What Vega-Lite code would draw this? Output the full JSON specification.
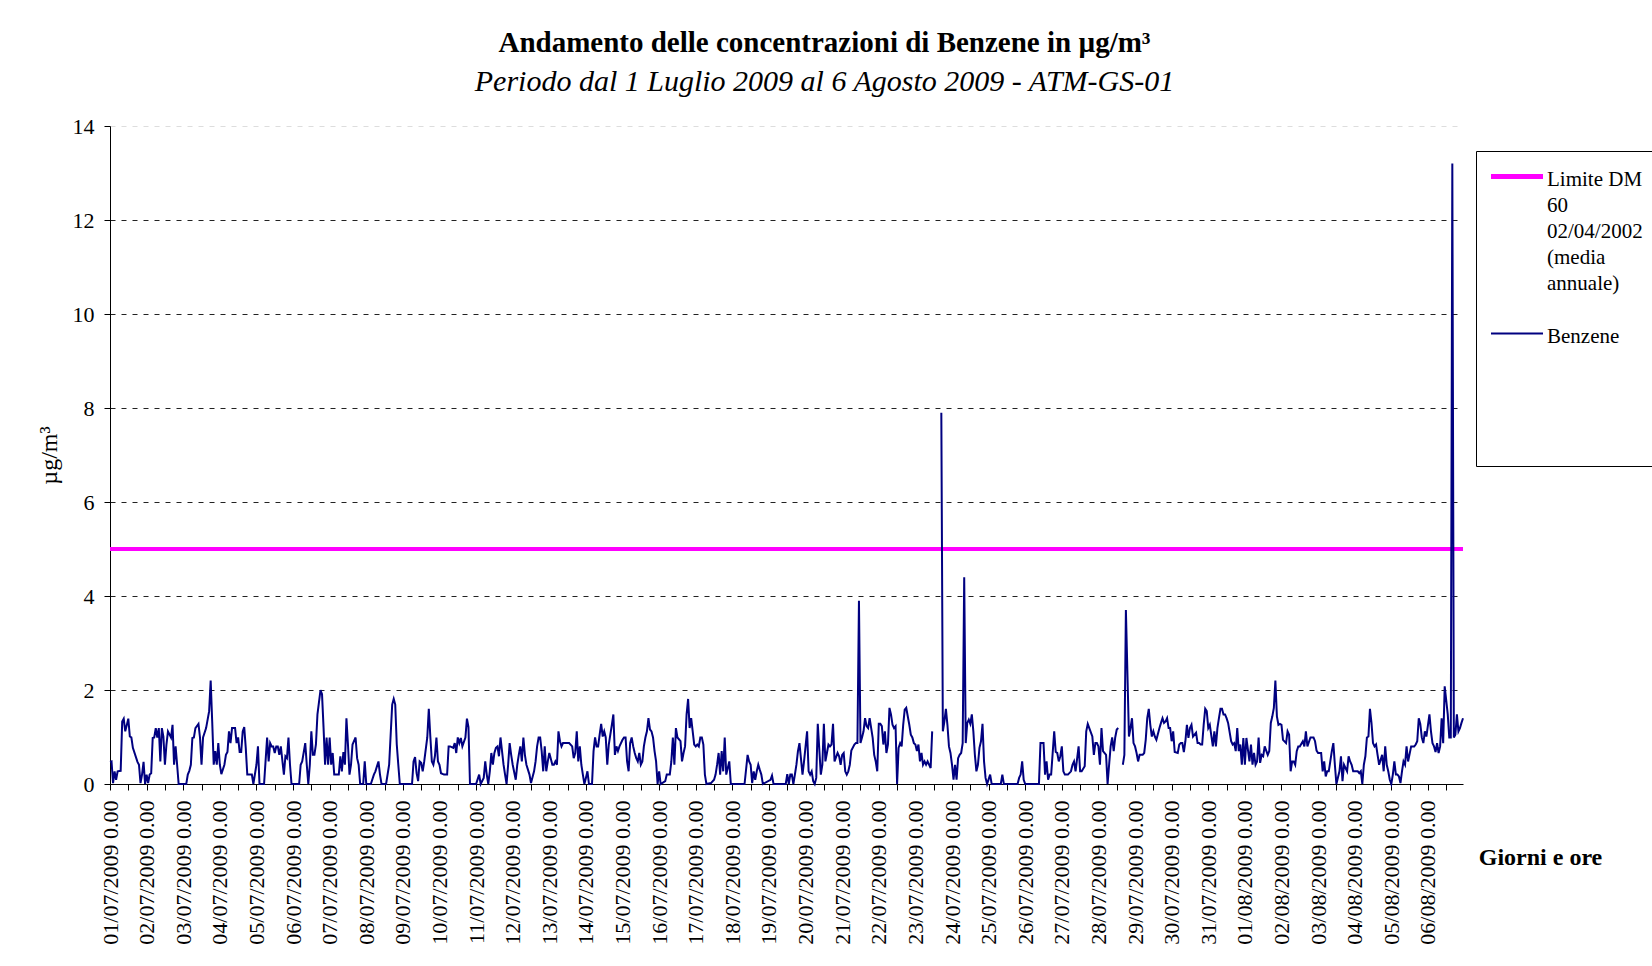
{
"$schema": "https://vega.github.io/schema/vega-lite/v6.json",
"width": 1353, "height": 658,
"autosize": {"type": "none"},
"padding": {"left": 110, "right": 189, "top": 126, "bottom": 182},
"background": "white",
"title": {"text": "Andamento delle concentrazioni di Benzene in µg/m³", "subtitle": "Periodo dal 1 Luglio 2009 al 6 Agosto 2009 - ATM-GS-01", "font": "Liberation Serif", "fontSize": 29, "fontWeight": "bold", "color": "#000", "subtitleFont": "Liberation Serif", "subtitleFontSize": 30, "subtitleFontStyle": "italic", "subtitleColor": "#000", "anchor": "middle", "frame": "group", "dx": 38, "offset": 18, "subtitlePadding": 9},
"config": {"view": {"stroke": null}, "font": "Liberation Serif"},
"layer": [
{"data": {"values": [{"s": "Limite DM 60 02/04/2002 (media annuale)", "v": 5}]},
 "mark": {"type": "rule", "strokeWidth": 4},
 "encoding": {
  "y": {"field": "v", "type": "quantitative"},
  "color": {"field": "s", "type": "nominal",
   "scale": {"domain": ["Limite DM 60 02/04/2002 (media annuale)", "Benzene"], "range": ["#FF00FF", "#000080"]},
   "legend": {"title": null, "orient": "none", "legendX": 1366, "legendY": 25, "padding": 15, "strokeColor": "#000", "fillColor": "#fff", "symbolType": "stroke", "symbolSize": 2704, "symbolStrokeWidth": 2, "labelFont": "Liberation Serif", "labelFontSize": 21, "labelColor": "#000", "labelOffset": 35, "labelLimit": 400, "labelBaseline": "top", "rowPadding": 29,
    "labelExpr": "datum.value == 'Benzene' ? ['Benzene','','','',''] : ['Limite DM','60','02/04/2002','(media','annuale)']",
    "encode": {"symbols": {"update": {"x": {"value": 26}, "strokeWidth": {"signal": "datum.value == 'Benzene' ? 2 : 5"}}},
               "labels": {"update": {"dy": {"value": -8}, "lineHeight": {"value": 26}}}}}}
 }},
{"data": {"values": [
{"t":"2009-07-01T00:00","v":0.47},{"t":"2009-07-01T01:00","v":0.48},{"t":"2009-07-01T02:00","v":0.02},{"t":"2009-07-01T03:00","v":0.27},{"t":"2009-07-01T04:00","v":0.09},{"t":"2009-07-01T05:00","v":0.27},{"t":"2009-07-01T07:00","v":0.28},{"t":"2009-07-01T08:00","v":1.33},{"t":"2009-07-01T09:00","v":1.39},{"t":"2009-07-01T10:00","v":1.12},{"t":"2009-07-01T12:00","v":1.39},{"t":"2009-07-01T13:00","v":1.01},{"t":"2009-07-01T14:00","v":0.99},{"t":"2009-07-01T15:00","v":0.77},{"t":"2009-07-01T18:00","v":0.47},{"t":"2009-07-01T19:00","v":0.41},{"t":"2009-07-01T20:00","v":0.02},{"t":"2009-07-01T21:00","v":0.20},{"t":"2009-07-01T22:00","v":0.47},{"t":"2009-07-01T23:00","v":0},
{"t":"2009-07-02T00:00","v":0.20},{"t":"2009-07-02T01:00","v":0.02},{"t":"2009-07-02T02:00","v":0.20},{"t":"2009-07-02T03:00","v":0.23},{"t":"2009-07-02T04:00","v":0.98},{"t":"2009-07-02T05:00","v":0.99},{"t":"2009-07-02T06:00","v":1.19},{"t":"2009-07-02T07:00","v":0.99},{"t":"2009-07-02T08:00","v":1.19},{"t":"2009-07-02T09:00","v":0.48},{"t":"2009-07-02T10:00","v":1.19},{"t":"2009-07-02T11:00","v":1.01},{"t":"2009-07-02T12:00","v":0.41},{"t":"2009-07-02T13:00","v":0.84},{"t":"2009-07-02T14:00","v":1.12},{"t":"2009-07-02T16:00","v":0.99},{"t":"2009-07-02T17:00","v":1.26},{"t":"2009-07-02T18:00","v":0.41},{"t":"2009-07-02T19:00","v":0.80},{"t":"2009-07-02T20:00","v":0.41},{"t":"2009-07-02T21:00","v":0},
{"t":"2009-07-03T02:00","v":0},{"t":"2009-07-03T03:00","v":0.20},{"t":"2009-07-03T04:00","v":0.28},{"t":"2009-07-03T05:00","v":0.41},{"t":"2009-07-03T06:00","v":0.98},{"t":"2009-07-03T07:00","v":0.99},{"t":"2009-07-03T08:00","v":1.19},{"t":"2009-07-03T10:00","v":1.28},{"t":"2009-07-03T11:00","v":0.99},{"t":"2009-07-03T12:00","v":0.41},{"t":"2009-07-03T13:00","v":0.99},{"t":"2009-07-03T15:00","v":1.19},{"t":"2009-07-03T16:00","v":1.37},{"t":"2009-07-03T17:00","v":1.55},{"t":"2009-07-03T18:00","v":2.20},{"t":"2009-07-03T19:00","v":1.33},{"t":"2009-07-03T20:00","v":0.41},{"t":"2009-07-03T21:00","v":0.70},{"t":"2009-07-03T22:00","v":0.41},{"t":"2009-07-03T23:00","v":0.87},
{"t":"2009-07-04T00:00","v":0.41},{"t":"2009-07-04T01:00","v":0.21},{"t":"2009-07-04T03:00","v":0.41},{"t":"2009-07-04T04:00","v":0.62},{"t":"2009-07-04T05:00","v":0.68},{"t":"2009-07-04T06:00","v":1.12},{"t":"2009-07-04T07:00","v":0.87},{"t":"2009-07-04T08:00","v":1.19},{"t":"2009-07-04T10:00","v":1.19},{"t":"2009-07-04T11:00","v":0.87},{"t":"2009-07-04T12:00","v":0.99},{"t":"2009-07-04T13:00","v":0.68},{"t":"2009-07-04T14:00","v":0.68},{"t":"2009-07-04T15:00","v":1.12},{"t":"2009-07-04T16:00","v":1.21},{"t":"2009-07-04T17:00","v":0.77},{"t":"2009-07-04T18:00","v":0.20},{"t":"2009-07-04T20:00","v":0.20},{"t":"2009-07-04T21:00","v":0.20},{"t":"2009-07-04T22:00","v":0},
{"t":"2009-07-05T00:00","v":0.41},{"t":"2009-07-05T01:00","v":0.80},{"t":"2009-07-05T02:00","v":0},{"t":"2009-07-05T05:00","v":0},{"t":"2009-07-05T07:00","v":0.99},{"t":"2009-07-05T08:00","v":0.48},{"t":"2009-07-05T09:00","v":0.87},{"t":"2009-07-05T10:00","v":0.80},{"t":"2009-07-05T11:00","v":0.80},{"t":"2009-07-05T12:00","v":0.66},{"t":"2009-07-05T13:00","v":0.80},{"t":"2009-07-05T14:00","v":0.80},{"t":"2009-07-05T15:00","v":0.62},{"t":"2009-07-05T16:00","v":0.80},{"t":"2009-07-05T18:00","v":0.20},{"t":"2009-07-05T19:00","v":0.59},{"t":"2009-07-05T20:00","v":0.55},{"t":"2009-07-05T21:00","v":0.99},{"t":"2009-07-05T22:00","v":0.41},{"t":"2009-07-05T23:00","v":0},
{"t":"2009-07-06T04:00","v":0},{"t":"2009-07-06T05:00","v":0.41},{"t":"2009-07-06T06:00","v":0.48},{"t":"2009-07-06T08:00","v":0.87},{"t":"2009-07-06T09:00","v":0.41},{"t":"2009-07-06T10:00","v":0},{"t":"2009-07-06T11:00","v":0.41},{"t":"2009-07-06T12:00","v":1.12},{"t":"2009-07-06T13:00","v":0.62},{"t":"2009-07-06T14:00","v":0.62},{"t":"2009-07-06T15:00","v":0.84},{"t":"2009-07-06T16:00","v":1.48},{"t":"2009-07-06T18:00","v":2.00},{"t":"2009-07-06T19:00","v":1.91},{"t":"2009-07-06T20:00","v":1.20},{"t":"2009-07-06T21:00","v":0.41},{"t":"2009-07-06T22:00","v":0.99},{"t":"2009-07-06T23:00","v":0.41},
{"t":"2009-07-07T00:00","v":0.99},{"t":"2009-07-07T01:00","v":0.41},{"t":"2009-07-07T02:00","v":0.66},{"t":"2009-07-07T03:00","v":0.20},{"t":"2009-07-07T05:00","v":0.20},{"t":"2009-07-07T06:00","v":0.20},{"t":"2009-07-07T07:00","v":0.59},{"t":"2009-07-07T08:00","v":0.27},{"t":"2009-07-07T09:00","v":0.68},{"t":"2009-07-07T10:00","v":0.41},{"t":"2009-07-07T11:00","v":1.40},{"t":"2009-07-07T12:00","v":0.84},{"t":"2009-07-07T13:00","v":0.20},{"t":"2009-07-07T14:00","v":0.41},{"t":"2009-07-07T15:00","v":0.84},{"t":"2009-07-07T17:00","v":0.99},{"t":"2009-07-07T18:00","v":0.55},{"t":"2009-07-07T19:00","v":0.41},{"t":"2009-07-07T20:00","v":0},{"t":"2009-07-07T22:00","v":0},{"t":"2009-07-07T23:00","v":0.48},
{"t":"2009-07-08T00:00","v":0},{"t":"2009-07-08T03:00","v":0},{"t":"2009-07-08T05:00","v":0.20},{"t":"2009-07-08T06:00","v":0.27},{"t":"2009-07-08T08:00","v":0.48},{"t":"2009-07-08T09:00","v":0.20},{"t":"2009-07-08T10:00","v":0},{"t":"2009-07-08T13:00","v":0},{"t":"2009-07-08T15:00","v":0.41},{"t":"2009-07-08T17:00","v":1.69},{"t":"2009-07-08T18:00","v":1.81},{"t":"2009-07-08T19:00","v":1.69},{"t":"2009-07-08T20:00","v":0.84},{"t":"2009-07-08T21:00","v":0.41},{"t":"2009-07-08T22:00","v":0},
{"t":"2009-07-09T06:00","v":0},{"t":"2009-07-09T07:00","v":0.48},{"t":"2009-07-09T08:00","v":0.57},{"t":"2009-07-09T09:00","v":0.23},{"t":"2009-07-09T10:00","v":0.06},{"t":"2009-07-09T11:00","v":0.48},{"t":"2009-07-09T12:00","v":0.45},{"t":"2009-07-09T13:00","v":0.27},{"t":"2009-07-09T14:00","v":0.48},{"t":"2009-07-09T16:00","v":0.99},{"t":"2009-07-09T17:00","v":1.60},{"t":"2009-07-09T18:00","v":1.01},{"t":"2009-07-09T19:00","v":0.48},{"t":"2009-07-09T20:00","v":0.41},{"t":"2009-07-09T21:00","v":0.59},{"t":"2009-07-09T22:00","v":0.99},{"t":"2009-07-09T23:00","v":0.48},
{"t":"2009-07-10T00:00","v":0.41},{"t":"2009-07-10T01:00","v":0.23},{"t":"2009-07-10T03:00","v":0.20},{"t":"2009-07-10T05:00","v":0.20},{"t":"2009-07-10T06:00","v":0.80},{"t":"2009-07-10T07:00","v":0.80},{"t":"2009-07-10T09:00","v":0.77},{"t":"2009-07-10T10:00","v":0.87},{"t":"2009-07-10T11:00","v":0.66},{"t":"2009-07-10T12:00","v":0.99},{"t":"2009-07-10T13:00","v":0.87},{"t":"2009-07-10T14:00","v":0.98},{"t":"2009-07-10T15:00","v":0.80},{"t":"2009-07-10T17:00","v":0.99},{"t":"2009-07-10T18:00","v":1.39},{"t":"2009-07-10T19:00","v":1.21},{"t":"2009-07-10T20:00","v":0},
{"t":"2009-07-11T00:00","v":0},{"t":"2009-07-11T02:00","v":0.20},{"t":"2009-07-11T03:00","v":0},{"t":"2009-07-11T05:00","v":0.13},{"t":"2009-07-11T06:00","v":0.48},{"t":"2009-07-11T07:00","v":0.20},{"t":"2009-07-11T08:00","v":0},{"t":"2009-07-11T09:00","v":0.27},{"t":"2009-07-11T10:00","v":0.66},{"t":"2009-07-11T11:00","v":0.41},{"t":"2009-07-11T12:00","v":0.66},{"t":"2009-07-11T13:00","v":0.77},{"t":"2009-07-11T14:00","v":0.80},{"t":"2009-07-11T15:00","v":0.59},{"t":"2009-07-11T16:00","v":0.99},{"t":"2009-07-11T18:00","v":0.41},{"t":"2009-07-11T19:00","v":0.20},{"t":"2009-07-11T20:00","v":0},{"t":"2009-07-11T21:00","v":0.41},{"t":"2009-07-11T22:00","v":0.87},{"t":"2009-07-11T23:00","v":0.62},
{"t":"2009-07-12T00:00","v":0.41},{"t":"2009-07-12T02:00","v":0.09},{"t":"2009-07-12T03:00","v":0.41},{"t":"2009-07-12T04:00","v":0.62},{"t":"2009-07-12T05:00","v":0.80},{"t":"2009-07-12T06:00","v":0.48},{"t":"2009-07-12T07:00","v":0.99},{"t":"2009-07-12T08:00","v":0.62},{"t":"2009-07-12T09:00","v":0.41},{"t":"2009-07-12T11:00","v":0.20},{"t":"2009-07-12T12:00","v":0.02},{"t":"2009-07-12T14:00","v":0.27},{"t":"2009-07-12T15:00","v":0.48},{"t":"2009-07-12T16:00","v":0.80},{"t":"2009-07-12T17:00","v":0.99},{"t":"2009-07-12T18:00","v":0.99},{"t":"2009-07-12T19:00","v":0.70},{"t":"2009-07-12T20:00","v":0.27},{"t":"2009-07-12T21:00","v":0.80},{"t":"2009-07-12T22:00","v":0.27},{"t":"2009-07-12T23:00","v":0.48},
{"t":"2009-07-13T00:00","v":0.66},{"t":"2009-07-13T02:00","v":0.41},{"t":"2009-07-13T03:00","v":0.41},{"t":"2009-07-13T04:00","v":0.48},{"t":"2009-07-13T05:00","v":0.41},{"t":"2009-07-13T06:00","v":1.12},{"t":"2009-07-13T07:00","v":0.91},{"t":"2009-07-13T08:00","v":0.80},{"t":"2009-07-13T09:00","v":0.87},{"t":"2009-07-13T11:00","v":0.87},{"t":"2009-07-13T13:00","v":0.87},{"t":"2009-07-13T15:00","v":0.80},{"t":"2009-07-13T16:00","v":0.55},{"t":"2009-07-13T17:00","v":0.66},{"t":"2009-07-13T18:00","v":1.12},{"t":"2009-07-13T19:00","v":0.48},{"t":"2009-07-13T20:00","v":0.80},{"t":"2009-07-13T21:00","v":0.41},{"t":"2009-07-13T22:00","v":0.20},{"t":"2009-07-13T23:00","v":0},
{"t":"2009-07-14T00:00","v":0.13},{"t":"2009-07-14T01:00","v":0.27},{"t":"2009-07-14T02:00","v":0},{"t":"2009-07-14T04:00","v":0},{"t":"2009-07-14T05:00","v":0.70},{"t":"2009-07-14T06:00","v":0.99},{"t":"2009-07-14T07:00","v":0.80},{"t":"2009-07-14T08:00","v":0.80},{"t":"2009-07-14T09:00","v":1.05},{"t":"2009-07-14T10:00","v":1.28},{"t":"2009-07-14T11:00","v":1.01},{"t":"2009-07-14T12:00","v":1.12},{"t":"2009-07-14T13:00","v":0.99},{"t":"2009-07-14T14:00","v":0.41},{"t":"2009-07-14T15:00","v":0.84},{"t":"2009-07-14T16:00","v":1.05},{"t":"2009-07-14T17:00","v":1.26},{"t":"2009-07-14T18:00","v":1.48},{"t":"2009-07-14T19:00","v":0.62},{"t":"2009-07-14T20:00","v":0.80},{"t":"2009-07-14T21:00","v":0.70},{"t":"2009-07-14T22:00","v":0.80},
{"t":"2009-07-15T00:00","v":0.94},{"t":"2009-07-15T01:00","v":0.99},{"t":"2009-07-15T02:00","v":0.99},{"t":"2009-07-15T03:00","v":0.48},{"t":"2009-07-15T04:00","v":0.27},{"t":"2009-07-15T05:00","v":0.87},{"t":"2009-07-15T06:00","v":0.99},{"t":"2009-07-15T07:00","v":0.80},{"t":"2009-07-15T08:00","v":0.66},{"t":"2009-07-15T09:00","v":0.55},{"t":"2009-07-15T10:00","v":0.48},{"t":"2009-07-15T11:00","v":0.66},{"t":"2009-07-15T12:00","v":0.41},{"t":"2009-07-15T13:00","v":0.48},{"t":"2009-07-15T14:00","v":0.80},{"t":"2009-07-15T15:00","v":0.99},{"t":"2009-07-15T16:00","v":1.12},{"t":"2009-07-15T17:00","v":1.40},{"t":"2009-07-15T18:00","v":1.16},{"t":"2009-07-15T19:00","v":1.12},{"t":"2009-07-15T20:00","v":0.99},{"t":"2009-07-15T21:00","v":0.70},{"t":"2009-07-15T22:00","v":0.48},{"t":"2009-07-15T23:00","v":0},
{"t":"2009-07-16T00:00","v":0.27},{"t":"2009-07-16T01:00","v":0},{"t":"2009-07-16T04:00","v":0.06},{"t":"2009-07-16T05:00","v":0.20},{"t":"2009-07-16T07:00","v":0.20},{"t":"2009-07-16T08:00","v":0.48},{"t":"2009-07-16T09:00","v":0.99},{"t":"2009-07-16T10:00","v":0.41},{"t":"2009-07-16T11:00","v":1.19},{"t":"2009-07-16T12:00","v":0.99},{"t":"2009-07-16T14:00","v":0.91},{"t":"2009-07-16T15:00","v":0.48},{"t":"2009-07-16T16:00","v":0.66},{"t":"2009-07-16T17:00","v":0.80},{"t":"2009-07-16T18:00","v":1.48},{"t":"2009-07-16T19:00","v":1.81},{"t":"2009-07-16T20:00","v":1.19},{"t":"2009-07-16T21:00","v":1.40},{"t":"2009-07-16T23:00","v":0.84},
{"t":"2009-07-17T00:00","v":0.80},{"t":"2009-07-17T01:00","v":0.84},{"t":"2009-07-17T02:00","v":0.80},{"t":"2009-07-17T03:00","v":0.99},{"t":"2009-07-17T04:00","v":0.99},{"t":"2009-07-17T05:00","v":0.84},{"t":"2009-07-17T06:00","v":0.20},{"t":"2009-07-17T07:00","v":0},{"t":"2009-07-17T10:00","v":0.02},{"t":"2009-07-17T12:00","v":0.09},{"t":"2009-07-17T13:00","v":0.20},{"t":"2009-07-17T14:00","v":0.41},{"t":"2009-07-17T15:00","v":0.66},{"t":"2009-07-17T16:00","v":0.20},{"t":"2009-07-17T17:00","v":0.70},{"t":"2009-07-17T18:00","v":0.27},{"t":"2009-07-17T19:00","v":0.99},{"t":"2009-07-17T20:00","v":0.20},{"t":"2009-07-17T22:00","v":0.48},{"t":"2009-07-17T23:00","v":0},
{"t":"2009-07-18T08:00","v":0},{"t":"2009-07-18T10:00","v":0.62},{"t":"2009-07-18T11:00","v":0.48},{"t":"2009-07-18T12:00","v":0.41},{"t":"2009-07-18T13:00","v":0.02},{"t":"2009-07-18T14:00","v":0.27},{"t":"2009-07-18T15:00","v":0.09},{"t":"2009-07-18T16:00","v":0.27},{"t":"2009-07-18T17:00","v":0.41},{"t":"2009-07-18T18:00","v":0.30},{"t":"2009-07-18T19:00","v":0.20},{"t":"2009-07-18T20:00","v":0},
{"t":"2009-07-19T01:00","v":0.09},{"t":"2009-07-19T02:00","v":0.18},{"t":"2009-07-19T03:00","v":0},{"t":"2009-07-19T11:00","v":0},{"t":"2009-07-19T12:00","v":0.21},{"t":"2009-07-19T13:00","v":0},{"t":"2009-07-19T14:00","v":0.20},{"t":"2009-07-19T15:00","v":0.20},{"t":"2009-07-19T16:00","v":0},{"t":"2009-07-19T17:00","v":0.20},{"t":"2009-07-19T18:00","v":0.41},{"t":"2009-07-19T19:00","v":0.70},{"t":"2009-07-19T20:00","v":0.87},{"t":"2009-07-19T22:00","v":0.20},{"t":"2009-07-19T23:00","v":0.48},
{"t":"2009-07-20T00:00","v":0.80},{"t":"2009-07-20T01:00","v":1.12},{"t":"2009-07-20T02:00","v":0.27},{"t":"2009-07-20T03:00","v":0.20},{"t":"2009-07-20T04:00","v":0.27},{"t":"2009-07-20T05:00","v":0.06},{"t":"2009-07-20T06:00","v":0},{"t":"2009-07-20T07:00","v":0.13},{"t":"2009-07-20T08:00","v":1.28},{"t":"2009-07-20T10:00","v":0.20},{"t":"2009-07-20T11:00","v":0.41},{"t":"2009-07-20T12:00","v":1.28},{"t":"2009-07-20T13:00","v":0.48},{"t":"2009-07-20T14:00","v":0.66},{"t":"2009-07-20T15:00","v":0.84},{"t":"2009-07-20T16:00","v":0.80},{"t":"2009-07-20T17:00","v":0.84},{"t":"2009-07-20T18:00","v":1.28},{"t":"2009-07-20T19:00","v":0.48},{"t":"2009-07-20T21:00","v":0.66},{"t":"2009-07-20T22:00","v":0.59},{"t":"2009-07-20T23:00","v":0.41},
{"t":"2009-07-21T00:00","v":0.62},{"t":"2009-07-21T01:00","v":0.66},{"t":"2009-07-21T02:00","v":0.27},{"t":"2009-07-21T03:00","v":0.20},{"t":"2009-07-21T04:00","v":0.27},{"t":"2009-07-21T05:00","v":0.41},{"t":"2009-07-21T06:00","v":0.71},{"t":"2009-07-21T08:00","v":0.84},{"t":"2009-07-21T09:00","v":0.87},{"t":"2009-07-21T10:00","v":0.87},{"t":"2009-07-21T11:00","v":3.90},{"t":"2009-07-21T12:00","v":0.87},{"t":"2009-07-21T13:00","v":0.99},{"t":"2009-07-21T14:00","v":1.12},{"t":"2009-07-21T15:00","v":1.40},{"t":"2009-07-21T16:00","v":1.23},{"t":"2009-07-21T17:00","v":1.19},{"t":"2009-07-21T18:00","v":1.40},{"t":"2009-07-21T20:00","v":0.98},{"t":"2009-07-21T21:00","v":0.62},{"t":"2009-07-21T22:00","v":0.48},{"t":"2009-07-21T23:00","v":0.27},
{"t":"2009-07-22T00:00","v":1.28},{"t":"2009-07-22T01:00","v":1.28},{"t":"2009-07-22T02:00","v":1.23},{"t":"2009-07-22T03:00","v":0.84},{"t":"2009-07-22T04:00","v":1.12},{"t":"2009-07-22T05:00","v":0.66},{"t":"2009-07-22T06:00","v":0.84},{"t":"2009-07-22T07:00","v":1.62},{"t":"2009-07-22T08:00","v":1.48},{"t":"2009-07-22T09:00","v":1.26},{"t":"2009-07-22T10:00","v":1.19},{"t":"2009-07-22T11:00","v":1.23},{"t":"2009-07-22T12:00","v":0},{"t":"2009-07-22T13:00","v":0.77},{"t":"2009-07-22T14:00","v":0.87},{"t":"2009-07-22T15:00","v":0.80},{"t":"2009-07-22T16:00","v":1.26},{"t":"2009-07-22T17:00","v":1.58},{"t":"2009-07-22T18:00","v":1.62},{"t":"2009-07-22T20:00","v":1.26},{"t":"2009-07-22T21:00","v":1.05},{"t":"2009-07-22T22:00","v":0.99},{"t":"2009-07-22T23:00","v":0.87},
{"t":"2009-07-23T00:00","v":0.84},{"t":"2009-07-23T01:00","v":0.70},{"t":"2009-07-23T02:00","v":0.84},{"t":"2009-07-23T03:00","v":0.48},{"t":"2009-07-23T04:00","v":0.66},{"t":"2009-07-23T05:00","v":0.41},{"t":"2009-07-23T06:00","v":0.48},{"t":"2009-07-23T07:00","v":0.41},{"t":"2009-07-23T08:00","v":0.48},{"t":"2009-07-23T09:00","v":0.41},{"t":"2009-07-23T10:00","v":0.34},{"t":"2009-07-23T11:00","v":1.12},{"t":"2009-07-23T12:00","v":null},{"t":"2009-07-23T17:00","v":7.90},{"t":"2009-07-23T18:00","v":1.12},{"t":"2009-07-23T19:00","v":1.33},{"t":"2009-07-23T20:00","v":1.60},{"t":"2009-07-23T21:00","v":1.26},{"t":"2009-07-23T22:00","v":0.80},{"t":"2009-07-23T23:00","v":0.66},
{"t":"2009-07-24T00:00","v":0.41},{"t":"2009-07-24T01:00","v":0.09},{"t":"2009-07-24T02:00","v":0.41},{"t":"2009-07-24T03:00","v":0.09},{"t":"2009-07-24T04:00","v":0.55},{"t":"2009-07-24T05:00","v":0.62},{"t":"2009-07-24T06:00","v":0.66},{"t":"2009-07-24T07:00","v":0.87},{"t":"2009-07-24T08:00","v":4.40},{"t":"2009-07-24T09:00","v":0.87},{"t":"2009-07-24T10:00","v":1.30},{"t":"2009-07-24T11:00","v":1.37},{"t":"2009-07-24T12:00","v":1.28},{"t":"2009-07-24T13:00","v":1.48},{"t":"2009-07-24T14:00","v":1.12},{"t":"2009-07-24T15:00","v":0.62},{"t":"2009-07-24T16:00","v":0.27},{"t":"2009-07-24T17:00","v":0.41},{"t":"2009-07-24T18:00","v":0.77},{"t":"2009-07-24T19:00","v":0.91},{"t":"2009-07-24T20:00","v":1.28},{"t":"2009-07-24T21:00","v":0.48},{"t":"2009-07-24T22:00","v":0.13},{"t":"2009-07-24T23:00","v":0},
{"t":"2009-07-25T01:00","v":0.20},{"t":"2009-07-25T02:00","v":0},{"t":"2009-07-25T08:00","v":0},{"t":"2009-07-25T09:00","v":0.20},{"t":"2009-07-25T10:00","v":0},{"t":"2009-07-25T19:00","v":0},{"t":"2009-07-25T20:00","v":0.13},{"t":"2009-07-25T21:00","v":0.20},{"t":"2009-07-25T22:00","v":0.48},{"t":"2009-07-25T23:00","v":0.09},
{"t":"2009-07-26T00:00","v":0},{"t":"2009-07-26T09:00","v":0},{"t":"2009-07-26T10:00","v":0.87},{"t":"2009-07-26T12:00","v":0.87},{"t":"2009-07-26T13:00","v":0.20},{"t":"2009-07-26T14:00","v":0.48},{"t":"2009-07-26T15:00","v":0.09},{"t":"2009-07-26T16:00","v":0.20},{"t":"2009-07-26T17:00","v":0.20},{"t":"2009-07-26T19:00","v":1.12},{"t":"2009-07-26T20:00","v":0.68},{"t":"2009-07-26T21:00","v":0.66},{"t":"2009-07-26T22:00","v":0.48},{"t":"2009-07-26T23:00","v":0.59},
{"t":"2009-07-27T00:00","v":0.80},{"t":"2009-07-27T01:00","v":0.27},{"t":"2009-07-27T02:00","v":0.20},{"t":"2009-07-27T04:00","v":0.20},{"t":"2009-07-27T06:00","v":0.27},{"t":"2009-07-27T07:00","v":0.41},{"t":"2009-07-27T08:00","v":0.48},{"t":"2009-07-27T09:00","v":0.27},{"t":"2009-07-27T11:00","v":0.80},{"t":"2009-07-27T12:00","v":0.27},{"t":"2009-07-27T13:00","v":0.27},{"t":"2009-07-27T15:00","v":0.38},{"t":"2009-07-27T16:00","v":1.12},{"t":"2009-07-27T17:00","v":1.28},{"t":"2009-07-27T18:00","v":1.19},{"t":"2009-07-27T20:00","v":1.01},{"t":"2009-07-27T21:00","v":0.62},{"t":"2009-07-27T22:00","v":0.87},{"t":"2009-07-27T23:00","v":0.87},
{"t":"2009-07-28T00:00","v":0.80},{"t":"2009-07-28T01:00","v":0.41},{"t":"2009-07-28T02:00","v":1.19},{"t":"2009-07-28T03:00","v":0.70},{"t":"2009-07-28T05:00","v":0.62},{"t":"2009-07-28T06:00","v":0},{"t":"2009-07-28T07:00","v":0.41},{"t":"2009-07-28T08:00","v":0.80},{"t":"2009-07-28T09:00","v":0.99},{"t":"2009-07-28T10:00","v":0.70},{"t":"2009-07-28T11:00","v":0.99},{"t":"2009-07-28T12:00","v":1.16},{"t":"2009-07-28T13:00","v":1.19},{"t":"2009-07-28T14:00","v":null},{"t":"2009-07-28T16:00","v":0.41},{"t":"2009-07-28T17:00","v":0.62},{"t":"2009-07-28T18:00","v":3.70},{"t":"2009-07-28T20:00","v":1.01},{"t":"2009-07-28T21:00","v":1.19},{"t":"2009-07-28T22:00","v":1.40},{"t":"2009-07-28T23:00","v":0.87},
{"t":"2009-07-29T00:00","v":0.80},{"t":"2009-07-29T01:00","v":0.66},{"t":"2009-07-29T02:00","v":0.48},{"t":"2009-07-29T03:00","v":0.62},{"t":"2009-07-29T05:00","v":0.62},{"t":"2009-07-29T06:00","v":0.66},{"t":"2009-07-29T07:00","v":0.94},{"t":"2009-07-29T08:00","v":1.40},{"t":"2009-07-29T09:00","v":1.60},{"t":"2009-07-29T10:00","v":1.26},{"t":"2009-07-29T11:00","v":1.01},{"t":"2009-07-29T12:00","v":1.12},{"t":"2009-07-29T13:00","v":1.01},{"t":"2009-07-29T14:00","v":0.94},{"t":"2009-07-29T16:00","v":1.19},{"t":"2009-07-29T17:00","v":1.30},{"t":"2009-07-29T18:00","v":1.40},{"t":"2009-07-29T19:00","v":1.30},{"t":"2009-07-29T20:00","v":1.33},{"t":"2009-07-29T21:00","v":1.40},{"t":"2009-07-29T22:00","v":1.19},{"t":"2009-07-29T23:00","v":1.19},
{"t":"2009-07-30T00:00","v":0.91},{"t":"2009-07-30T01:00","v":1.12},{"t":"2009-07-30T02:00","v":0.68},{"t":"2009-07-30T04:00","v":0.66},{"t":"2009-07-30T05:00","v":0.84},{"t":"2009-07-30T06:00","v":0.87},{"t":"2009-07-30T07:00","v":0.87},{"t":"2009-07-30T08:00","v":0.68},{"t":"2009-07-30T09:00","v":0.91},{"t":"2009-07-30T10:00","v":1.26},{"t":"2009-07-30T11:00","v":0.98},{"t":"2009-07-30T12:00","v":1.19},{"t":"2009-07-30T13:00","v":1.26},{"t":"2009-07-30T14:00","v":1.01},{"t":"2009-07-30T16:00","v":1.09},{"t":"2009-07-30T17:00","v":0.87},{"t":"2009-07-30T18:00","v":0.87},{"t":"2009-07-30T19:00","v":0.84},{"t":"2009-07-30T20:00","v":0.84},{"t":"2009-07-30T21:00","v":1.26},{"t":"2009-07-30T22:00","v":1.60},{"t":"2009-07-30T23:00","v":1.55},
{"t":"2009-07-31T00:00","v":1.19},{"t":"2009-07-31T01:00","v":1.26},{"t":"2009-07-31T03:00","v":0.80},{"t":"2009-07-31T04:00","v":1.12},{"t":"2009-07-31T05:00","v":0.80},{"t":"2009-07-31T06:00","v":1.19},{"t":"2009-07-31T07:00","v":1.40},{"t":"2009-07-31T08:00","v":1.60},{"t":"2009-07-31T09:00","v":1.60},{"t":"2009-07-31T10:00","v":1.48},{"t":"2009-07-31T11:00","v":1.48},{"t":"2009-07-31T12:00","v":1.40},{"t":"2009-07-31T13:00","v":1.30},{"t":"2009-07-31T15:00","v":0.91},{"t":"2009-07-31T16:00","v":0.84},{"t":"2009-07-31T17:00","v":0.87},{"t":"2009-07-31T18:00","v":0.70},{"t":"2009-07-31T19:00","v":1.19},{"t":"2009-07-31T20:00","v":0.70},{"t":"2009-07-31T21:00","v":0.84},{"t":"2009-07-31T22:00","v":0.41},{"t":"2009-07-31T23:00","v":0.98},
{"t":"2009-08-01T00:00","v":0.41},{"t":"2009-08-01T01:00","v":0.98},{"t":"2009-08-01T03:00","v":0.48},{"t":"2009-08-01T04:00","v":0.84},{"t":"2009-08-01T05:00","v":0.41},{"t":"2009-08-01T06:00","v":0.66},{"t":"2009-08-01T07:00","v":0.41},{"t":"2009-08-01T08:00","v":0.48},{"t":"2009-08-01T09:00","v":0.99},{"t":"2009-08-01T10:00","v":0.45},{"t":"2009-08-01T11:00","v":0.62},{"t":"2009-08-01T12:00","v":0.59},{"t":"2009-08-01T13:00","v":0.80},{"t":"2009-08-01T15:00","v":0.62},{"t":"2009-08-01T16:00","v":0.70},{"t":"2009-08-01T17:00","v":1.30},{"t":"2009-08-01T18:00","v":1.44},{"t":"2009-08-01T19:00","v":1.62},{"t":"2009-08-01T20:00","v":2.20},{"t":"2009-08-01T21:00","v":1.44},{"t":"2009-08-01T22:00","v":1.26},{"t":"2009-08-01T23:00","v":1.28},
{"t":"2009-08-02T00:00","v":1.26},{"t":"2009-08-02T01:00","v":0.94},{"t":"2009-08-02T03:00","v":0.87},{"t":"2009-08-02T04:00","v":1.12},{"t":"2009-08-02T05:00","v":1.05},{"t":"2009-08-02T06:00","v":0.27},{"t":"2009-08-02T07:00","v":0.48},{"t":"2009-08-02T08:00","v":0.48},{"t":"2009-08-02T09:00","v":0.41},{"t":"2009-08-02T10:00","v":0.70},{"t":"2009-08-02T11:00","v":0.80},{"t":"2009-08-02T12:00","v":0.80},{"t":"2009-08-02T14:00","v":0.91},{"t":"2009-08-02T15:00","v":0.80},{"t":"2009-08-02T16:00","v":1.12},{"t":"2009-08-02T17:00","v":0.80},{"t":"2009-08-02T19:00","v":0.99},{"t":"2009-08-02T20:00","v":0.99},{"t":"2009-08-02T21:00","v":0.99},{"t":"2009-08-02T22:00","v":0.91},{"t":"2009-08-02T23:00","v":0.71},
{"t":"2009-08-03T00:00","v":0.66},{"t":"2009-08-03T02:00","v":0.66},{"t":"2009-08-03T03:00","v":0.27},{"t":"2009-08-03T04:00","v":0.48},{"t":"2009-08-03T05:00","v":0.16},{"t":"2009-08-03T06:00","v":0.27},{"t":"2009-08-03T07:00","v":0.27},{"t":"2009-08-03T08:00","v":0.48},{"t":"2009-08-03T09:00","v":0.70},{"t":"2009-08-03T10:00","v":0.87},{"t":"2009-08-03T11:00","v":0.41},{"t":"2009-08-03T12:00","v":0},{"t":"2009-08-03T14:00","v":0.27},{"t":"2009-08-03T15:00","v":0.59},{"t":"2009-08-03T16:00","v":0.06},{"t":"2009-08-03T17:00","v":0.41},{"t":"2009-08-03T19:00","v":0.27},{"t":"2009-08-03T20:00","v":0.59},{"t":"2009-08-03T21:00","v":0.48},{"t":"2009-08-03T22:00","v":0.41},{"t":"2009-08-03T23:00","v":0.27},
{"t":"2009-08-04T00:00","v":0.27},{"t":"2009-08-04T02:00","v":0.27},{"t":"2009-08-04T03:00","v":0.23},{"t":"2009-08-04T04:00","v":0.27},{"t":"2009-08-04T05:00","v":0},{"t":"2009-08-04T06:00","v":0.41},{"t":"2009-08-04T07:00","v":0.59},{"t":"2009-08-04T08:00","v":0.99},{"t":"2009-08-04T09:00","v":1.01},{"t":"2009-08-04T10:00","v":1.60},{"t":"2009-08-04T11:00","v":1.30},{"t":"2009-08-04T12:00","v":0.87},{"t":"2009-08-04T13:00","v":0.80},{"t":"2009-08-04T14:00","v":0.84},{"t":"2009-08-04T15:00","v":0.62},{"t":"2009-08-04T16:00","v":0.41},{"t":"2009-08-04T18:00","v":0.62},{"t":"2009-08-04T19:00","v":0.27},{"t":"2009-08-04T20:00","v":0.80},{"t":"2009-08-04T21:00","v":0.41},{"t":"2009-08-04T22:00","v":0.27},{"t":"2009-08-04T23:00","v":0.09},
{"t":"2009-08-05T00:00","v":0},{"t":"2009-08-05T01:00","v":0.20},{"t":"2009-08-05T02:00","v":0.48},{"t":"2009-08-05T03:00","v":0.20},{"t":"2009-08-05T04:00","v":0.20},{"t":"2009-08-05T05:00","v":0.16},{"t":"2009-08-05T06:00","v":0.02},{"t":"2009-08-05T07:00","v":0.27},{"t":"2009-08-05T08:00","v":0.48},{"t":"2009-08-05T09:00","v":0.41},{"t":"2009-08-05T10:00","v":0.80},{"t":"2009-08-05T11:00","v":0.48},{"t":"2009-08-05T13:00","v":0.80},{"t":"2009-08-05T14:00","v":0.80},{"t":"2009-08-05T15:00","v":0.80},{"t":"2009-08-05T16:00","v":0.84},{"t":"2009-08-05T17:00","v":0.91},{"t":"2009-08-05T18:00","v":1.40},{"t":"2009-08-05T19:00","v":1.28},{"t":"2009-08-05T20:00","v":0.99},{"t":"2009-08-05T21:00","v":0.87},{"t":"2009-08-05T22:00","v":1.12},{"t":"2009-08-05T23:00","v":1.01},
{"t":"2009-08-06T01:00","v":1.48},{"t":"2009-08-06T02:00","v":1.12},{"t":"2009-08-06T03:00","v":0.87},{"t":"2009-08-06T04:00","v":0.80},{"t":"2009-08-06T05:00","v":0.68},{"t":"2009-08-06T06:00","v":0.87},{"t":"2009-08-06T07:00","v":0.66},{"t":"2009-08-06T08:00","v":0.80},{"t":"2009-08-06T09:00","v":1.40},{"t":"2009-08-06T10:00","v":0.87},{"t":"2009-08-06T11:00","v":2.08},{"t":"2009-08-06T13:00","v":1.48},{"t":"2009-08-06T14:00","v":0.99},{"t":"2009-08-06T15:00","v":0.99},{"t":"2009-08-06T16:00","v":13.20},{"t":"2009-08-06T17:00","v":0.99},{"t":"2009-08-06T18:00","v":1.05},{"t":"2009-08-06T19:00","v":1.48},{"t":"2009-08-06T20:00","v":1.12},{"t":"2009-08-06T21:00","v":1.19},{"t":"2009-08-06T22:00","v":1.30},{"t":"2009-08-06T23:00","v":1.40}
]},
 "mark": {"type": "line", "strokeWidth": 2},
 "encoding": {
  "x": {"field": "t", "type": "temporal",
   "scale": {"nice": false},
   "axis": {"title": "Giorni e ore", "titleFont": "Liberation Serif", "titleFontSize": 24, "titleFontWeight": "bold", "titleColor": "#000", "titleAngle": 0, "titleAlign": "center", "titleBaseline": "middle", "titleX": 1430, "titleY": 73,
    "tickCount": 74, "labelExpr": "hours(datum.value) == 0 ? timeFormat(datum.value, '%d/%m/%Y %-H.%M') : ''",
    "labelAngle": -90, "labelAlign": "right", "labelBaseline": "middle", "labelFont": "Liberation Serif", "labelFontSize": 22, "labelColor": "#000", "labelPadding": 10, "labelOverlap": false, "labelFlush": false, "labelBound": false,
    "tickSize": 6, "tickColor": "#000", "domainColor": "#000", "domainWidth": 1, "grid": false}},
  "y": {"field": "v", "type": "quantitative",
   "scale": {"domain": [0, 14], "nice": false, "zero": true},
   "axis": {"title": "µg/m³", "titleFont": "Liberation Serif", "titleFontSize": 24, "titleFontWeight": "normal", "titleColor": "#000", "titleAngle": -90, "titleX": -61, "titleY": 329, "titleAlign": "center", "titleBaseline": "middle",
    "values": [0, 2, 4, 6, 8, 10, 12, 14], "labelFont": "Liberation Serif", "labelFontSize": 22, "labelColor": "#000", "labelPadding": 10,
    "tickSize": 6, "tickColor": "#000", "domainColor": "#000",
    "grid": true, "gridDash": [5, 6], "gridColor": {"condition": {"test": "datum.value == 14", "value": "#dddddd"}, "value": "#222222"}, "gridWidth": 1}},
  "color": {"datum": "Benzene", "type": "nominal"}
 }}
]
}
